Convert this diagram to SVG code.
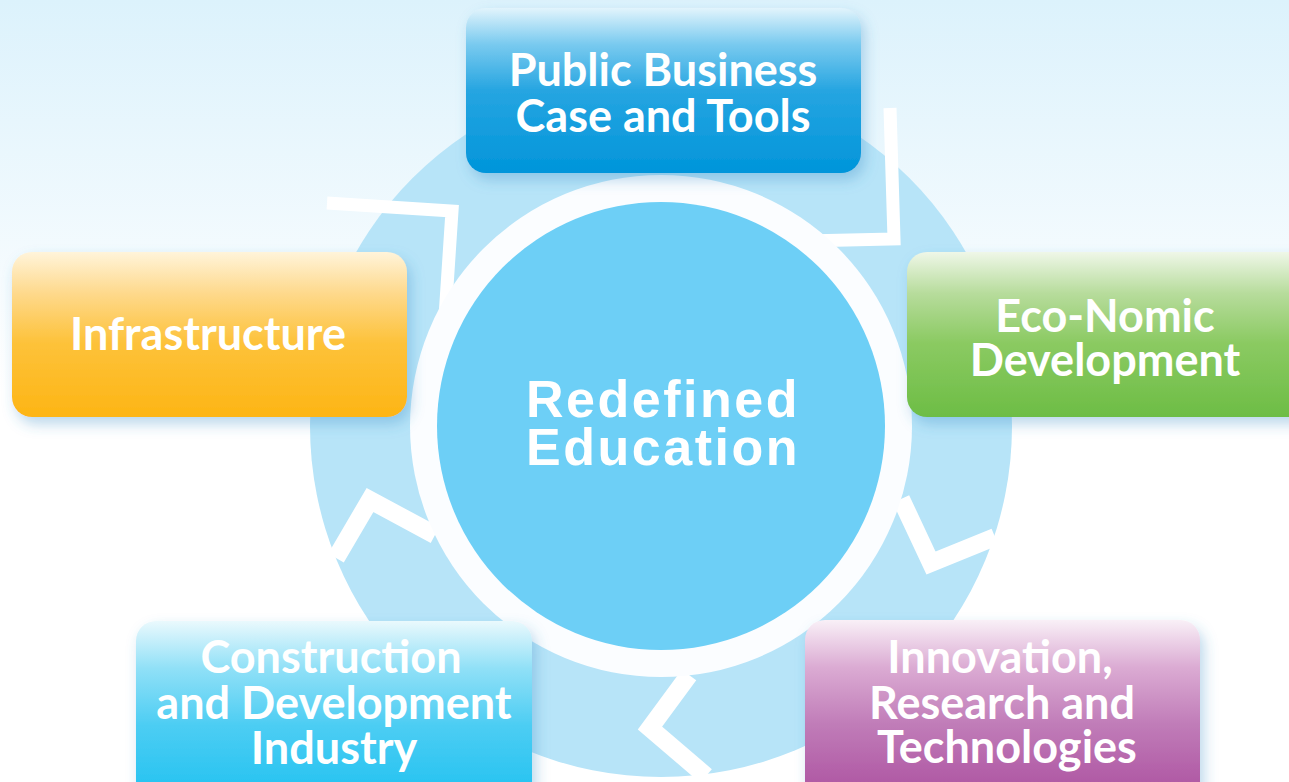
<svg xmlns="http://www.w3.org/2000/svg" width="1289" height="782" viewBox="0 0 1289 782">
  <defs>
    <linearGradient id="bg" x1="0" y1="0" x2="0" y2="1">
      <stop offset="0" stop-color="#dcf2fc"/>
      <stop offset="0.35" stop-color="#f5fbfe"/>
      <stop offset="0.5" stop-color="#ffffff"/>
      <stop offset="1" stop-color="#ffffff"/>
    </linearGradient>
    <linearGradient id="gBlue" x1="0" y1="0" x2="0" y2="1">
      <stop offset="0" stop-color="#e2f4fc"/>
      <stop offset="0.22" stop-color="#79caef"/>
      <stop offset="0.5" stop-color="#26a5e1"/>
      <stop offset="1" stop-color="#0095da"/>
    </linearGradient>
    <linearGradient id="gOrange" x1="0" y1="0" x2="0" y2="1">
      <stop offset="0" stop-color="#fff4da"/>
      <stop offset="0.25" stop-color="#fed98c"/>
      <stop offset="0.55" stop-color="#fdc23a"/>
      <stop offset="1" stop-color="#fdb515"/>
    </linearGradient>
    <linearGradient id="gGreen" x1="0" y1="0" x2="0" y2="1">
      <stop offset="0" stop-color="#eff7e8"/>
      <stop offset="0.25" stop-color="#b7dc9c"/>
      <stop offset="0.55" stop-color="#8bca62"/>
      <stop offset="1" stop-color="#6dbd45"/>
    </linearGradient>
    <linearGradient id="gCyan" x1="0" y1="0" x2="0" y2="1">
      <stop offset="0" stop-color="#eaf9fd"/>
      <stop offset="0.25" stop-color="#90e0f7"/>
      <stop offset="0.55" stop-color="#4ccdf3"/>
      <stop offset="1" stop-color="#1ac0f0"/>
    </linearGradient>
    <linearGradient id="gPurple" x1="0" y1="0" x2="0" y2="1">
      <stop offset="0" stop-color="#f9f0f7"/>
      <stop offset="0.25" stop-color="#dbabd3"/>
      <stop offset="0.55" stop-color="#c07cb8"/>
      <stop offset="1" stop-color="#a94a9c"/>
    </linearGradient>
    <linearGradient id="fadeTop" gradientUnits="userSpaceOnUse" x1="0" y1="108" x2="0" y2="175">
      <stop offset="0" stop-color="#ffffff" stop-opacity="0.45"/>
      <stop offset="1" stop-color="#ffffff" stop-opacity="1"/>
    </linearGradient>
    <filter id="shadow" x="-10%" y="-10%" width="125%" height="135%">
      <feDropShadow dx="4" dy="7" stdDeviation="7" flood-color="#3b8fc6" flood-opacity="0.35"/>
    </filter>
    <style>
      .box { filter: url(#shadow); }
      .lbl { font-family: Lato, "Open Sans", "Liberation Sans", sans-serif; font-weight: 700; fill: #ffffff; text-anchor: middle; font-size: 45px; }
      .center { font-family: "Liberation Sans", Arial, sans-serif; font-weight: 700; fill: #ffffff; text-anchor: middle; font-size: 52px; letter-spacing: 2.5px; }
      .sep { fill: none; stroke: #ffffff; stroke-linejoin: miter; stroke-linecap: butt; }
    </style>
  </defs>

  <rect id="background" x="0" y="0" width="1289" height="782" fill="url(#bg)"/>

  <g id="ring">
    <circle cx="661" cy="426" r="351" fill="#b7e4f8"/>
  </g>

  <g id="connectors">
    <path class="sep" stroke-width="13" d="M327,203 L452,211 L444,332"/>
    <path class="sep" stroke-width="13" stroke="url(#fadeTop)" d="M890,108 L894,239 L805,241"/>
    <path class="sep" stroke-width="18" d="M901,499 L931,563 L995,537"/>
    <path class="sep" stroke-width="18" d="M689,675 L650,728 L706,776"/>
    <path class="sep" stroke-width="18" d="M336,558 L370,500 L435,535"/>
  </g>

  <g id="center-node">
    <circle cx="661" cy="426" r="251" fill="#fbfdff"/>
    <circle cx="661" cy="426" r="224" fill="#6dcff6"/>
    <text class="center" x="663" y="417">Redefined</text>
    <text class="center" x="663" y="465">Education</text>
  </g>

  <g id="node-public-business">
    <rect class="box" x="466" y="8" width="395" height="165" rx="20" fill="url(#gBlue)"/>
    <text class="lbl" x="663" y="86">Public Business</text>
    <text class="lbl" x="663" y="132">Case and Tools</text>
  </g>

  <g id="node-infrastructure">
    <rect class="box" x="12" y="252" width="395" height="165" rx="20" fill="url(#gOrange)"/>
    <text class="lbl" x="208" y="350">Infrastructure</text>
  </g>

  <g id="node-economic">
    <rect class="box" x="907" y="252" width="420" height="165" rx="20" fill="url(#gGreen)"/>
    <text class="lbl" x="1105" y="332">Eco-Nomic</text>
    <text class="lbl" x="1105" y="376">Development</text>
  </g>

  <g id="node-construction">
    <rect class="box" x="136" y="621" width="396" height="190" rx="20" fill="url(#gCyan)"/>
    <text class="lbl" x="331" y="673">Construction</text>
    <text class="lbl" x="334" y="719">and Development</text>
    <text class="lbl" x="334" y="764">Industry</text>
  </g>

  <g id="node-innovation">
    <rect class="box" x="805" y="620" width="395" height="190" rx="20" fill="url(#gPurple)"/>
    <text class="lbl" x="1000" y="673">Innovation,</text>
    <text class="lbl" x="1002" y="719">Research and</text>
    <text class="lbl" x="1007" y="763">Technologies</text>
  </g>
</svg>
